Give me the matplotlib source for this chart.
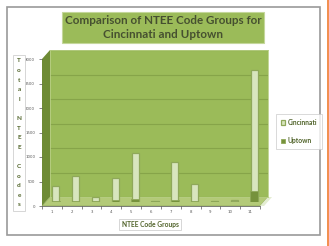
import matplotlib.pyplot as plt
from matplotlib.patches import Polygon, Rectangle
import numpy as np

groups = ["1", "2", "3", "4", "5", "6", "7", "8", "9", "10", "11"]
cincinnati = [320, 520, 90, 470, 1000, 20, 810, 350, 10, 40, 2680]
uptown = [15, 20, 5, 40, 60, 5, 30, 20, 2, 5, 210]
yticks = [0, 500, 1000, 1500, 2000, 2500, 3000]

W, H = 329, 246
fig = plt.figure(figsize=(W / 100, H / 100), dpi=100)
fig.patch.set_facecolor("white")


def box(x0, y0, x1, y1):
    # pixel box -> figure fraction [left, bottom, width, height]
    return [x0 / W, 1 - y1 / H, (x1 - x0) / W, (y1 - y0) / H]


def pt(x, y):
    return (x / W, 1 - y / H)


# outer frame and orange page line
fig.patches.append(Rectangle(pt(7, 235), 313 / W, 228 / H, transform=fig.transFigure,
                             fill=False, edgecolor="#9a9a9a", lw=1.2))
fig.add_artist(plt.Line2D([327.5 / W, 327.5 / W], [0, 1], color="#f07a30", lw=1.2))

wall = "#9bbb59"
# left wall and floor of the 3d look
fig.patches.append(Polygon([pt(42, 59), pt(50, 50), pt(50, 197), pt(42, 206)],
                           closed=True, transform=fig.transFigure,
                           facecolor="#6e8b35", edgecolor="none", zorder=0))
fig.patches.append(Polygon([pt(42, 206), pt(50, 197), pt(268, 197), pt(260, 206)],
                           closed=True, transform=fig.transFigure,
                           facecolor="#b3ca78", edgecolor="#8fa85a", lw=0.5, zorder=0))
fig.patches.append(Polygon([pt(260, 206), pt(268, 197), pt(272, 197), pt(264, 206)],
                           closed=True, transform=fig.transFigure,
                           facecolor="#e4edd2", edgecolor="none", zorder=0))

# back wall with gridlines
back = fig.add_axes(box(50, 50, 268, 197), zorder=1)
back.set_facecolor(wall)
back.set_ylim(0, 3000)
back.set_xlim(0, 1)
back.set_yticks(yticks)
back.grid(axis="y", color="#86a449", lw=0.8)
back.tick_params(left=False, bottom=False, labelleft=False, labelbottom=False)
for s in back.spines.values():
    s.set_color("#b8cf85")
    s.set_linewidth(0.6)

# bars at mid depth
x = np.arange(1, len(groups) + 1)
bars = fig.add_axes(box(46, 54.5, 264, 201.5), zorder=2)
bars.patch.set_alpha(0)
bars.set_xlim(0.5, 11.5)
bars.set_ylim(0, 3000)
bars.axis("off")
bars.bar(x, cincinnati, width=0.36, color="#d8e5be", edgecolor="#8fa85a", lw=0.9,
         label="Cincinnati")
bars.bar(x, uptown, width=0.38, color="#76923c", edgecolor="#8fa85a", lw=0.6,
         label="Uptown")

# front axis with ticks
ax = fig.add_axes(box(42, 59, 260, 206), zorder=3)
ax.patch.set_alpha(0)
ax.set_xlim(0.5, 11.5)
ax.set_ylim(0, 3000)
ax.set_xticks(x)
ax.set_xticklabels(groups)
ax.set_yticks(yticks)
ax.tick_params(labelsize=2.8, length=2, width=0.5, colors="#555555", pad=3)
ax.set_xticks(np.arange(0.5, 12, 1), minor=True)
ax.tick_params(axis="x", which="major", length=0)
ax.tick_params(axis="x", which="minor", length=2, width=0.5, color="#555555")
for s in ["top", "right"]:
    ax.spines[s].set_visible(False)
ax.spines["left"].set_visible(False)
ax.spines["bottom"].set_color("#555555")
ax.spines["bottom"].set_linewidth(0.5)

txt = "#4f6228"
# title box
fig.text(163 / W, 1 - 27.5 / H, "Comparison of NTEE Code Groups for\nCincinnati and Uptown",
         ha="center", va="center", fontsize=8.4, fontweight="bold", family="Lato",
         color="#465030", linespacing=1.25,
         bbox=dict(boxstyle="square,pad=0.25", facecolor=wall, edgecolor="#c4d79b", lw=0.8))

# vertical y label
fig.text(19 / W, 1 - 133 / H, "\n".join("Total NTEE Codes"), ha="center", va="center",
         fontsize=4.6, fontweight="bold", family="Lato", color=txt, linespacing=2.15,
         bbox=dict(boxstyle="square,pad=0.5", facecolor="white", edgecolor="#d0d0d0", lw=0.6))

# x label
fig.text(150 / W, 1 - 224.5 / H, "NTEE Code Groups", ha="center", va="center",
         fontsize=4.8, fontweight="bold", family="Lato", color=txt,
         bbox=dict(boxstyle="square,pad=0.35", facecolor="white", edgecolor="#d0d0d0", lw=0.6))

leg = fig.legend(loc="center left", bbox_to_anchor=(276 / W, 1 - 131.5 / H), frameon=True,
                 handlelength=0.7, handleheight=0.7, handletextpad=0.3,
                 labelspacing=1.7, borderpad=0.7, borderaxespad=0, fancybox=False,
                 prop=dict(family="Lato", weight="bold", size=4.8))
leg.get_frame().set_edgecolor("#c8c8c8")
leg.get_frame().set_linewidth(0.6)
for t in leg.get_texts():
    t.set_color(txt)

fig.savefig("out.png", dpi=100)
